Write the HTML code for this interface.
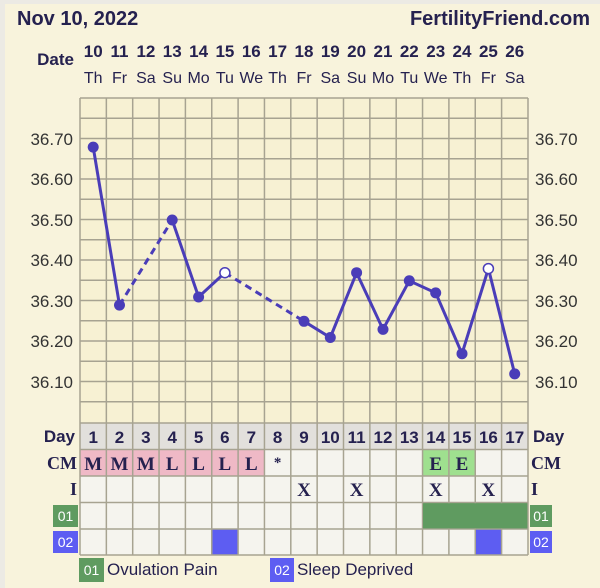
<!DOCTYPE html>
<html><head><meta charset="utf-8"><style>
html,body{margin:0;padding:0;background:#f8f3dc;}
svg{display:block;font-family:"Liberation Sans",sans-serif;}
</style></head><body>
<svg width="600" height="588" viewBox="0 0 600 588" xmlns="http://www.w3.org/2000/svg">
<rect x="0" y="0" width="600" height="588" fill="#f8f3dc"/>
<rect x="0" y="0" width="600" height="4" fill="#eceae4"/>
<rect x="0" y="0" width="5" height="588" fill="#eceae4"/>
<text x="17" y="25" font-size="20" font-weight="bold" fill="#25214f">Nov 10, 2022</text>
<text x="590" y="25" font-size="20" font-weight="bold" fill="#25214f" text-anchor="end">FertilityFriend.com</text>
<text x="74" y="65" font-size="17" font-weight="bold" fill="#25214f" text-anchor="end">Date</text>
<g font-size="17" font-weight="bold" fill="#25214f" text-anchor="middle">
<text x="93.2" y="57">10</text><text x="119.5" y="57">11</text><text x="145.9" y="57">12</text><text x="172.2" y="57">13</text><text x="198.6" y="57">14</text><text x="224.9" y="57">15</text><text x="251.3" y="57">16</text><text x="277.6" y="57">17</text><text x="304" y="57">18</text><text x="330.3" y="57">19</text><text x="356.6" y="57">20</text><text x="383" y="57">21</text><text x="409.3" y="57">22</text><text x="435.7" y="57">23</text><text x="462" y="57">24</text><text x="488.4" y="57">25</text><text x="514.7" y="57">26</text>
</g>
<g font-size="16" fill="#25214f" text-anchor="middle">
<text x="93.2" y="83">Th</text><text x="119.5" y="83">Fr</text><text x="145.9" y="83">Sa</text><text x="172.2" y="83">Su</text><text x="198.6" y="83">Mo</text><text x="224.9" y="83">Tu</text><text x="251.3" y="83">We</text><text x="277.6" y="83">Th</text><text x="304" y="83">Fr</text><text x="330.3" y="83">Sa</text><text x="356.6" y="83">Su</text><text x="383" y="83">Mo</text><text x="409.3" y="83">Tu</text><text x="435.7" y="83">We</text><text x="462" y="83">Th</text><text x="488.4" y="83">Fr</text><text x="514.7" y="83">Sa</text>
</g>
<rect x="80" y="98" width="448" height="325" fill="#f7f1d3"/>
<rect x="80" y="423" width="448" height="26.5" fill="#e2e0dc"/>
<rect x="80" y="449.5" width="448" height="105.5" fill="#f5f4ee"/>
<rect x="80" y="449.5" width="184.5" height="26.5" fill="#efb9c6"/>
<rect x="422.5" y="449.5" width="52.7" height="26.5" fill="#9fe08f"/>
<rect x="422.5" y="502.5" width="105.5" height="26.5" fill="#5f9b60"/>
<rect x="211.6" y="529" width="26.4" height="26" fill="#5d5df2"/>
<rect x="475.2" y="529" width="26.4" height="26" fill="#5d5df2"/>
<g stroke="#a7a391" stroke-width="1.5">
<line x1="80" y1="98" x2="528" y2="98"/><line x1="80" y1="118.25" x2="528" y2="118.25"/><line x1="80" y1="138.5" x2="528" y2="138.5"/><line x1="80" y1="158.75" x2="528" y2="158.75"/><line x1="80" y1="179" x2="528" y2="179"/><line x1="80" y1="199.25" x2="528" y2="199.25"/><line x1="80" y1="219.5" x2="528" y2="219.5"/><line x1="80" y1="239.75" x2="528" y2="239.75"/><line x1="80" y1="260" x2="528" y2="260"/><line x1="80" y1="280.25" x2="528" y2="280.25"/><line x1="80" y1="300.5" x2="528" y2="300.5"/><line x1="80" y1="320.75" x2="528" y2="320.75"/><line x1="80" y1="341" x2="528" y2="341"/><line x1="80" y1="361.25" x2="528" y2="361.25"/><line x1="80" y1="381.5" x2="528" y2="381.5"/><line x1="80" y1="401.75" x2="528" y2="401.75"/><line x1="80" y1="423" x2="528" y2="423"/>
<line x1="80" y1="449.5" x2="528" y2="449.5"/><line x1="80" y1="476" x2="528" y2="476"/><line x1="80" y1="502.5" x2="528" y2="502.5"/><line x1="80" y1="529" x2="528" y2="529"/><line x1="80" y1="555" x2="528" y2="555"/>
<line x1="80" y1="98" x2="80" y2="555"/><line x1="106.35" y1="98" x2="106.35" y2="555"/><line x1="132.7" y1="98" x2="132.7" y2="555"/><line x1="159.05" y1="98" x2="159.05" y2="555"/><line x1="185.4" y1="98" x2="185.4" y2="555"/><line x1="211.75" y1="98" x2="211.75" y2="555"/><line x1="238.1" y1="98" x2="238.1" y2="555"/><line x1="264.45" y1="98" x2="264.45" y2="555"/><line x1="290.8" y1="98" x2="290.8" y2="555"/><line x1="317.15" y1="98" x2="317.15" y2="555"/><line x1="343.5" y1="98" x2="343.5" y2="555"/><line x1="369.85" y1="98" x2="369.85" y2="555"/><line x1="396.2" y1="98" x2="396.2" y2="555"/><line x1="422.55" y1="98" x2="422.55" y2="555"/><line x1="448.9" y1="98" x2="448.9" y2="555"/><line x1="475.25" y1="98" x2="475.25" y2="555"/><line x1="501.6" y1="98" x2="501.6" y2="555"/><line x1="528" y1="98" x2="528" y2="555"/>
</g>
<rect x="423" y="503.3" width="104.2" height="25" fill="#5f9b60"/>
<g font-size="17" fill="#333" text-anchor="end">
<text x="73" y="145">36.70</text><text x="73" y="185">36.60</text><text x="73" y="226">36.50</text><text x="73" y="266">36.40</text><text x="73" y="307">36.30</text><text x="73" y="347">36.20</text><text x="73" y="388">36.10</text>
</g>
<g font-size="17" fill="#333">
<text x="535" y="145">36.70</text><text x="535" y="185">36.60</text><text x="535" y="226">36.50</text><text x="535" y="266">36.40</text><text x="535" y="307">36.30</text><text x="535" y="347">36.20</text><text x="535" y="388">36.10</text>
</g>
<g stroke="#4a3db8" stroke-width="3" fill="none">
<polyline points="93.2,147.1 119.5,305.1"/>
<line x1="119.5" y1="305.1" x2="172.2" y2="220" stroke-dasharray="7,5"/>
<polyline points="172.2,220 198.6,297 224.9,272.7"/>
<line x1="224.9" y1="272.7" x2="304" y2="321.3" stroke-dasharray="7,5"/>
<polyline points="304,321.3 330.3,337.5 356.6,272.7 383,329.4 409.3,280.8 435.7,292.9 462,353.7 488.4,268.6 514.7,373.9"/>
</g>
<g fill="#4a3db8">
<circle cx="93.2" cy="147.1" r="5.5"/><circle cx="119.5" cy="305.1" r="5.5"/><circle cx="172.2" cy="220" r="5.5"/><circle cx="198.6" cy="297" r="5.5"/><circle cx="304" cy="321.3" r="5.5"/><circle cx="330.3" cy="337.5" r="5.5"/><circle cx="356.6" cy="272.7" r="5.5"/><circle cx="383" cy="329.4" r="5.5"/><circle cx="409.3" cy="280.8" r="5.5"/><circle cx="435.7" cy="292.9" r="5.5"/><circle cx="462" cy="353.7" r="5.5"/><circle cx="514.7" cy="373.9" r="5.5"/>
</g>
<circle cx="224.9" cy="272.7" r="5" fill="#fff" stroke="#4a3db8" stroke-width="1.5"/>
<circle cx="488.4" cy="268.6" r="5" fill="#fff" stroke="#4a3db8" stroke-width="1.5"/>
<g font-size="17" font-weight="bold" fill="#25214f">
<text x="75" y="442" text-anchor="end">Day</text>
<text x="533" y="442">Day</text>
</g>
<g font-size="18" font-weight="bold" fill="#25214f" font-family="Liberation Serif,serif">
<text x="77" y="469" text-anchor="end">CM</text>
<text x="531" y="469">CM</text>
<text x="77" y="495" text-anchor="end">I</text>
<text x="531" y="495">I</text>
</g>
<g font-size="17" font-weight="bold" fill="#25214f" text-anchor="middle">
<text x="93.2" y="443">1</text><text x="119.5" y="443">2</text><text x="145.9" y="443">3</text><text x="172.2" y="443">4</text><text x="198.6" y="443">5</text><text x="224.9" y="443">6</text><text x="251.3" y="443">7</text><text x="277.6" y="443">8</text><text x="304" y="443">9</text><text x="330.3" y="443">10</text><text x="356.6" y="443">11</text><text x="383" y="443">12</text><text x="409.3" y="443">13</text><text x="435.7" y="443">14</text><text x="462" y="443">15</text><text x="488.4" y="443">16</text><text x="514.7" y="443">17</text>
</g>
<g font-size="19" font-weight="bold" fill="#25214f" text-anchor="middle" font-family="Liberation Serif,serif">
<text x="93.2" y="470">M</text><text x="119.5" y="470">M</text><text x="145.9" y="470">M</text><text x="172.2" y="470">L</text><text x="198.6" y="470">L</text><text x="224.9" y="470">L</text><text x="251.3" y="470">L</text><text x="277.6" y="467" font-size="15">*</text>
<text x="435.7" y="470">E</text><text x="462" y="470">E</text>
<text x="304" y="496">X</text><text x="356.6" y="496">X</text><text x="435.7" y="496">X</text><text x="488.4" y="496">X</text>
</g>
<rect x="53" y="505" width="25" height="22" fill="#5f9b60"/>
<text x="65.5" y="521" font-size="14" fill="#fff" text-anchor="middle">01</text>
<rect x="53" y="531" width="25" height="22" fill="#5d5df2"/>
<text x="65.5" y="547" font-size="14" fill="#fff" text-anchor="middle">02</text>
<rect x="530" y="505" width="22" height="22" fill="#5f9b60"/>
<text x="541" y="521" font-size="14" fill="#fff" text-anchor="middle">01</text>
<rect x="530" y="531" width="22" height="22" fill="#5d5df2"/>
<text x="541" y="547" font-size="14" fill="#fff" text-anchor="middle">02</text>
<rect x="79" y="558" width="25" height="24" fill="#5f9b60"/>
<text x="91.5" y="575" font-size="14" fill="#fff" text-anchor="middle">01</text>
<text x="107" y="575" font-size="17" fill="#25214f">Ovulation Pain</text>
<rect x="270" y="558" width="24" height="24" fill="#5d5df2"/>
<text x="282" y="575" font-size="14" fill="#fff" text-anchor="middle">02</text>
<text x="297" y="575" font-size="17" fill="#25214f">Sleep Deprived</text>
</svg>
</body></html>
